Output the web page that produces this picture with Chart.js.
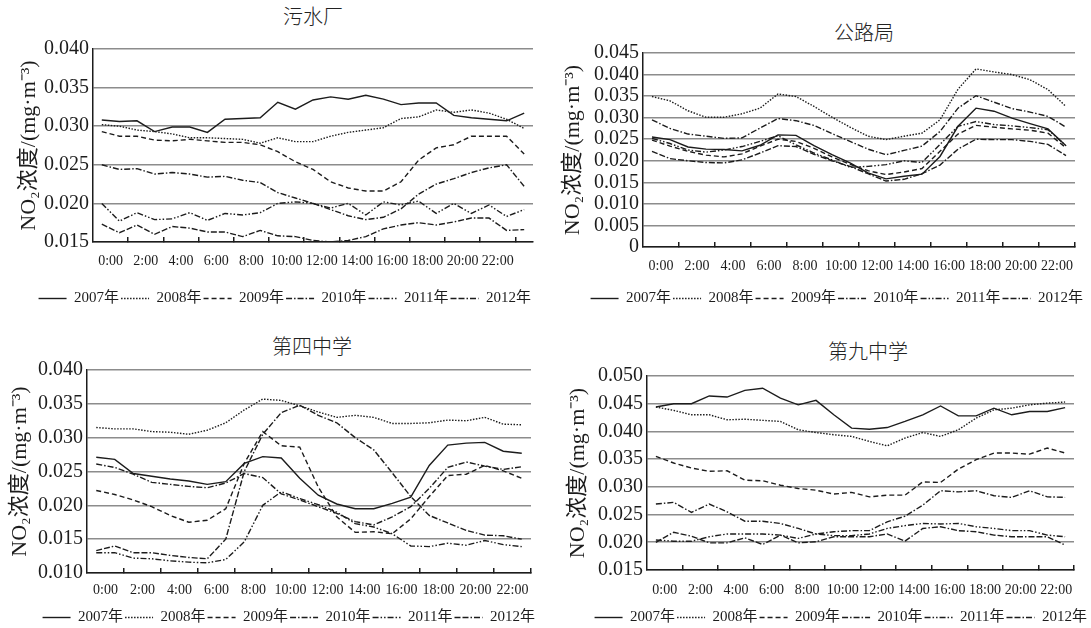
<!DOCTYPE html>
<html>
<head>
<meta charset="utf-8">
<script src="https://cdn.jsdelivr.net/npm/chart.js@4.4.1/dist/chart.umd.min.js"></script>
<style>
  body { margin: 0; background: #fff; width: 1091px; height: 628px; position: relative; overflow: hidden; }
  canvas { position: absolute; }
  .ttl { position: absolute; width: 200px; text-align: center; font: 300 20px 'Noto Sans CJK SC', sans-serif; line-height: 20px; color: #222; }
</style>
</head>
<body>
<div class="ttl" style="left:213px;top:6px">污水厂</div>
<div class="ttl" style="left:764px;top:22px">公路局</div>
<div class="ttl" style="left:212px;top:336px">第四中学</div>
<div class="ttl" style="left:768px;top:341px">第九中学</div>
<canvas id="c1" width="545" height="315" style="left:0;top:0"></canvas>
<canvas id="c2" width="546" height="315" style="left:545px;top:0"></canvas>
<canvas id="c3" width="545" height="313" style="left:0;top:315px"></canvas>
<canvas id="c4" width="546" height="313" style="left:545px;top:315px"></canvas>
<script>
// categories
const years = ['2007年', '2008年', '2009年', '2010年', '2011年', '2012年'];
const hours25 = [0, 1, 2, 3, 4, 5, 6, 7, 8, 9, 10, 11, 12, 13, 14, 15, 16, 17, 18, 19, 20, 21, 22, 23, 24];
const hours24 = [0, 1, 2, 3, 4, 5, 6, 7, 8, 9, 10, 11, 12, 13, 14, 15, 16, 17, 18, 19, 20, 21, 22, 23];
const hourLabels = ['0:00', '2:00', '4:00', '6:00', '8:00', '10:00', '12:00', '14:00', '16:00', '18:00', '20:00', '22:00'];

// y tick values
const yTicksSewage = [0.015, 0.020, 0.025, 0.030, 0.035, 0.040];
const yTicksRoad = [0, 0.005, 0.010, 0.015, 0.020, 0.025, 0.030, 0.035, 0.040, 0.045];
const yTicksNo4 = [0.010, 0.015, 0.020, 0.025, 0.030, 0.035, 0.040];
const yTicksNo9 = [0.015, 0.020, 0.025, 0.030, 0.035, 0.040, 0.045, 0.050];

// 污水厂
const sewage2007 = [0.0308, 0.0306, 0.0307, 0.0293, 0.0299, 0.0299, 0.0292, 0.0309, 0.0310, 0.0311, 0.0331, 0.0322, 0.0334, 0.0338, 0.0335, 0.0340, 0.0335, 0.0328, 0.0330, 0.0330, 0.0314, 0.0311, 0.0309, 0.0307, 0.0317];
const sewage2008 = [0.0302, 0.0300, 0.0295, 0.0293, 0.0290, 0.0285, 0.0285, 0.0284, 0.0283, 0.0278, 0.0285, 0.0280, 0.0280, 0.0287, 0.0292, 0.0295, 0.0298, 0.0310, 0.0312, 0.0321, 0.0318, 0.0321, 0.0317, 0.0309, 0.0297];
const sewage2009 = [0.0293, 0.0287, 0.0287, 0.0282, 0.0281, 0.0283, 0.0281, 0.0279, 0.0279, 0.0276, 0.0267, 0.0254, 0.0244, 0.0228, 0.0220, 0.0216, 0.0216, 0.0228, 0.0256, 0.0272, 0.0276, 0.0287, 0.0287, 0.0287, 0.0264];
const sewage2010 = [0.0250, 0.0244, 0.0245, 0.0238, 0.0240, 0.0238, 0.0234, 0.0235, 0.0230, 0.0227, 0.0214, 0.0207, 0.0200, 0.0192, 0.0184, 0.0179, 0.0182, 0.0193, 0.0212, 0.0225, 0.0232, 0.0240, 0.0246, 0.0250, 0.0222];
const sewage2011 = [0.0200, 0.0177, 0.0188, 0.0179, 0.0180, 0.0188, 0.0178, 0.0187, 0.0185, 0.0188, 0.0200, 0.0202, 0.0200, 0.0194, 0.0200, 0.0185, 0.0202, 0.0198, 0.0203, 0.0187, 0.0200, 0.0187, 0.0198, 0.0183, 0.0192];
const sewage2012 = [0.0173, 0.0162, 0.0172, 0.0160, 0.0170, 0.0168, 0.0163, 0.0163, 0.0157, 0.0165, 0.0158, 0.0157, 0.0152, 0.0150, 0.0152, 0.0157, 0.0167, 0.0172, 0.0175, 0.0172, 0.0176, 0.0181, 0.0181, 0.0165, 0.0166];

// 公路局
const road2007 = [0.0255, 0.0249, 0.0232, 0.0227, 0.0226, 0.0223, 0.0236, 0.0260, 0.0259, 0.0235, 0.0214, 0.0195, 0.0172, 0.0158, 0.0164, 0.0169, 0.0210, 0.0280, 0.0322, 0.0315, 0.0299, 0.0286, 0.0274, 0.0235];
const road2008 = [0.0349, 0.0339, 0.0316, 0.0301, 0.0301, 0.0309, 0.0322, 0.0355, 0.0349, 0.0326, 0.0301, 0.0278, 0.0257, 0.0249, 0.0257, 0.0264, 0.0295, 0.0366, 0.0413, 0.0406, 0.0400, 0.0388, 0.0365, 0.0326];
const road2009 = [0.0248, 0.0234, 0.0222, 0.0213, 0.0209, 0.0216, 0.0234, 0.0250, 0.0245, 0.0229, 0.0209, 0.0192, 0.0177, 0.0168, 0.0174, 0.0182, 0.0222, 0.0262, 0.0282, 0.0278, 0.0274, 0.0271, 0.0264, 0.0230];
const road2010 = [0.0295, 0.0275, 0.0262, 0.0257, 0.0252, 0.0253, 0.0276, 0.0298, 0.0293, 0.0282, 0.0263, 0.0245, 0.0227, 0.0214, 0.0224, 0.0234, 0.0268, 0.0322, 0.0351, 0.0336, 0.0321, 0.0313, 0.0303, 0.0278];
const road2011 = [0.0252, 0.0240, 0.0225, 0.0220, 0.0225, 0.0233, 0.0245, 0.0258, 0.0237, 0.0218, 0.0202, 0.0185, 0.0187, 0.0191, 0.0200, 0.0196, 0.0238, 0.0280, 0.0291, 0.0284, 0.0281, 0.0277, 0.0272, 0.0235];
const road2012 = [0.0222, 0.0205, 0.0200, 0.0196, 0.0195, 0.0202, 0.0218, 0.0235, 0.0233, 0.0215, 0.0200, 0.0187, 0.0170, 0.0153, 0.0157, 0.0170, 0.0190, 0.0227, 0.0250, 0.0249, 0.0249, 0.0245, 0.0238, 0.0212];

// 第四中学
const no4_2007 = [0.0271, 0.0268, 0.0247, 0.0243, 0.0239, 0.0236, 0.0231, 0.0235, 0.0262, 0.0272, 0.0270, 0.0240, 0.0215, 0.0202, 0.0195, 0.0195, 0.0203, 0.0212, 0.0259, 0.0289, 0.0292, 0.0293, 0.0280, 0.0277];
const no4_2008 = [0.0315, 0.0313, 0.0313, 0.0309, 0.0308, 0.0305, 0.0311, 0.0322, 0.0341, 0.0357, 0.0355, 0.0347, 0.0338, 0.0330, 0.0333, 0.0330, 0.0321, 0.0321, 0.0322, 0.0326, 0.0325, 0.0330, 0.0320, 0.0319];
const no4_2009 = [0.0222, 0.0216, 0.0208, 0.0198, 0.0185, 0.0175, 0.0178, 0.0195, 0.0262, 0.0309, 0.0288, 0.0286, 0.0227, 0.0183, 0.0160, 0.0161, 0.0158, 0.0180, 0.0213, 0.0244, 0.0246, 0.0259, 0.0251, 0.0240];
const no4_2010 = [0.0261, 0.0256, 0.0246, 0.0234, 0.0231, 0.0228, 0.0226, 0.0233, 0.0247, 0.0241, 0.0217, 0.0208, 0.0198, 0.0188, 0.0176, 0.0171, 0.0183, 0.0198, 0.0225, 0.0256, 0.0264, 0.0258, 0.0253, 0.0257];
const no4_2011 = [0.0130, 0.0130, 0.0122, 0.0121, 0.0118, 0.0116, 0.0115, 0.0120, 0.0146, 0.0200, 0.0220, 0.0210, 0.0201, 0.0190, 0.0173, 0.0168, 0.0158, 0.0140, 0.0139, 0.0144, 0.0141, 0.0148, 0.0142, 0.0139];
const no4_2012 = [0.0133, 0.0140, 0.0130, 0.0130, 0.0126, 0.0123, 0.0121, 0.0150, 0.0250, 0.0305, 0.0337, 0.0348, 0.0333, 0.0322, 0.0300, 0.0282, 0.0248, 0.0213, 0.0185, 0.0174, 0.0163, 0.0156, 0.0155, 0.0150];

// 第九中学
const no9_2007 = [0.0444, 0.0450, 0.0450, 0.0464, 0.0462, 0.0474, 0.0478, 0.0460, 0.0448, 0.0456, 0.0430, 0.0406, 0.0404, 0.0407, 0.0418, 0.0430, 0.0446, 0.0428, 0.0428, 0.0442, 0.0430, 0.0436, 0.0436, 0.0443];
const no9_2008 = [0.0444, 0.0438, 0.0430, 0.0430, 0.0421, 0.0422, 0.0420, 0.0418, 0.0403, 0.0398, 0.0394, 0.0391, 0.0382, 0.0374, 0.0388, 0.0398, 0.0391, 0.0403, 0.0424, 0.0439, 0.0442, 0.0448, 0.0451, 0.0453];
const no9_2009 = [0.0355, 0.0343, 0.0334, 0.0328, 0.0329, 0.0312, 0.0311, 0.0303, 0.0297, 0.0294, 0.0287, 0.0290, 0.0282, 0.0285, 0.0285, 0.0309, 0.0308, 0.0332, 0.0349, 0.0361, 0.0361, 0.0359, 0.0370, 0.0361];
const no9_2010 = [0.0269, 0.0272, 0.0254, 0.0269, 0.0255, 0.0238, 0.0238, 0.0234, 0.0225, 0.0215, 0.0219, 0.0221, 0.0221, 0.0237, 0.0247, 0.0267, 0.0293, 0.0291, 0.0293, 0.0284, 0.0281, 0.0293, 0.0282, 0.0281];
const no9_2011 = [0.0204, 0.0202, 0.0202, 0.0210, 0.0215, 0.0215, 0.0215, 0.0213, 0.0207, 0.0215, 0.0212, 0.0212, 0.0215, 0.0225, 0.0230, 0.0234, 0.0233, 0.0234, 0.0228, 0.0225, 0.0221, 0.0221, 0.0213, 0.0210];
const no9_2012 = [0.0200, 0.0218, 0.0211, 0.0199, 0.0199, 0.0208, 0.0196, 0.0213, 0.0199, 0.0201, 0.0210, 0.0210, 0.0210, 0.0215, 0.0202, 0.0225, 0.0228, 0.0221, 0.0219, 0.0213, 0.0210, 0.0210, 0.0210, 0.0195];

// one line style per year: solid, dotted, dashed, dash-dot, dash-dot-dot, dash-dash-dot
const dashes = [[], [1.5, 1.5], [5, 3], [6, 2, 1.5, 2], [6, 2, 1.5, 2, 1.5, 2], [6, 2, 6, 2, 1.5, 2]];
const serif = "'Liberation Serif', 'Times New Roman', 'Noto Sans CJK SC', serif";
const ink = '#1c1c1c';

function makePanel(id, hours, series, yTicks, lay) {
  const n = hours.length;
  // labels sit between two hours, small ticks every two hours
  const labelPos = hourLabels.map((_, k) => hours[2 * k] + 0.5);
  const markPos = hourLabels.map((_, k) => hours[2 * k] + 1.5);

  new Chart(document.getElementById(id), {
    type: 'line',
    data: {
      labels: hours,
      datasets: series.map((d, i) => ({
        label: years[i],
        data: d,
        borderColor: ink,
        backgroundColor: 'transparent',
        borderWidth: 1.4,
        borderDash: dashes[i],
        pointRadius: 0,
        tension: 0,
        fill: false,
      })),
    },
    options: {
      responsive: false,
      animation: false,
      layout: { padding: { left: 0, right: lay.right, top: lay.top, bottom: lay.bottom } },
      plugins: {
        tooltip: { enabled: false },
        legend: {
          position: 'bottom',
          align: 'end',
          maxHeight: 20,
          labels: {
            usePointStyle: true,
            pointStyle: 'line',
            pointStyleWidth: 28,
            padding: 2,
            color: ink,
            font: { family: serif, size: 15 },
            // point style drops the dash, so take it from the dataset
            generateLabels: chart => chart.data.datasets.map((ds, i) => ({
              text: ds.label,
              datasetIndex: i,
              fillStyle: 'transparent',
              strokeStyle: ink,
              lineWidth: 1.4,
              lineDash: ds.borderDash,
              pointStyle: 'line',
              fontColor: ink,
              hidden: false,
            })),
          },
        },
      },
      scales: {
        x: {
          type: 'linear',
          min: -0.5,
          max: n - 0.5,
          afterBuildTicks: s => {
            s.ticks = [...labelPos, ...markPos].sort((a, b) => a - b).map(v => ({ value: v }));
          },
          afterFit: s => { s.height = lay.xh; },
          ticks: {
            autoSkip: false,
            maxRotation: 0,
            minRotation: 0,
            padding: lay.xpad,
            color: ink,
            font: { family: serif, size: 14 },
            callback: v => {
              const k = labelPos.indexOf(v);
              return k >= 0 ? hourLabels[k] : '';
            },
          },
          grid: {
            drawOnChartArea: false,
            tickLength: -5,
            lineWidth: 1.5,
            color: c => (c.tick && markPos.includes(c.tick.value) ? ink : 'rgba(0,0,0,0)'),
          },
          border: { color: ink, width: 1.5 },
        },
        y: {
          min: yTicks[0],
          max: yTicks[yTicks.length - 1],
          afterBuildTicks: s => { s.ticks = yTicks.map(v => ({ value: v })); },
          afterFit: s => { s.width = lay.yw; },
          ticks: {
            autoSkip: false,
            padding: 4,
            color: ink,
            font: { family: serif, size: 20 },
            callback: v => (v === 0 ? '0' : v.toFixed(3)),
          },
          grid: { color: '#8c8c8c', lineWidth: 1.6, drawTicks: false },
          border: { color: ink, width: 1.5 },
          title: {
            display: true,
            text: 'NO₂浓度/(mg·m⁻³)',
            color: ink,
            font: { family: serif, size: 22 },
            padding: { top: lay.tpad, bottom: 0 },
          },
        },
      },
    },
  });
}

makePanel('c1', hours25,
  [sewage2007, sewage2008, sewage2009, sewage2010, sewage2011, sewage2012],
  yTicksSewage, { yw: 93, right: 12, top: 49, bottom: 6, xh: 47, xpad: 16, tpad: 16 });

makePanel('c2', hours24,
  [road2007, road2008, road2009, road2010, road2011, road2012],
  yTicksRoad, { yw: 98, right: 6, top: 53, bottom: 6, xh: 42, xpad: 16, tpad: 15 });

makePanel('c3', hours24,
  [no4_2007, no4_2008, no4_2009, no4_2010, no4_2011, no4_2012],
  yTicksNo4, { yw: 87, right: 8, top: 55, bottom: 0, xh: 35, xpad: 14, tpad: 7 });

makePanel('c4', hours24,
  [no9_2007, no9_2008, no9_2009, no9_2010, no9_2011, no9_2012],
  yTicksNo9, { yw: 102, right: 2, top: 61, bottom: 0, xh: 38, xpad: 17, tpad: 20 });
</script>
</body>
</html>
